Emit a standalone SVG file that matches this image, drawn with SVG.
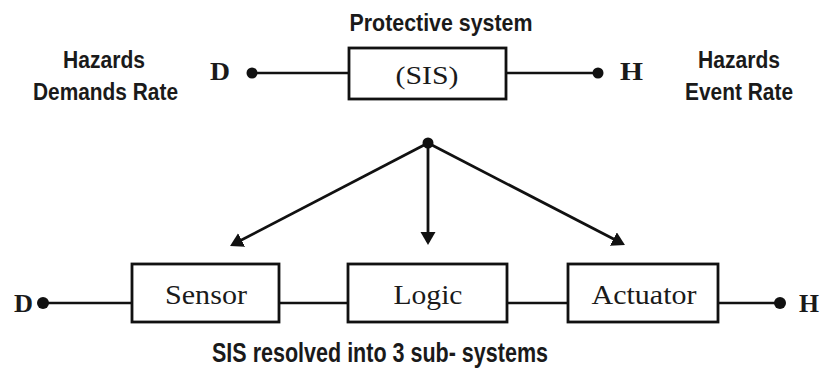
<svg xmlns="http://www.w3.org/2000/svg" width="820" height="370" viewBox="0 0 820 370">
<defs>
<style>
.box{fill:#fff;stroke:#111;stroke-width:2.8}
.ln{stroke:#111;stroke-width:2.4;fill:none}
.arr{stroke:#111;stroke-width:2.8;fill:none;marker-end:url(#ah)}
.dot{fill:#111}
.sans{font-family:"Liberation Sans",Arial,sans-serif;font-weight:bold;fill:#1a1a1a}
.serif{font-family:"Liberation Serif","Times New Roman",serif;fill:#1a1a1a}
.term{font-family:"Liberation Serif","Times New Roman",serif;font-weight:bold;fill:#1a1a1a;font-size:26px}
</style>
<marker id="ah" markerUnits="userSpaceOnUse" markerWidth="14" markerHeight="16" refX="10" refY="7.5" orient="auto">
<path d="M0,0 L13,7.5 L0,15 z" fill="#111"/>
</marker>
</defs>
<rect width="820" height="370" fill="#fff"/>

<g id="connectors">
<line class="ln" x1="252" y1="73" x2="349" y2="73"/>
<line class="ln" x1="506" y1="73" x2="598" y2="73"/>
<line class="arr" x1="428" y1="143" x2="232.7" y2="244.6"/>
<line class="arr" x1="428" y1="143" x2="428" y2="242"/>
<line class="arr" x1="428" y1="143" x2="622.3" y2="243.6"/>
<line class="ln" x1="43" y1="303" x2="132" y2="303"/>
<line class="ln" x1="279" y1="303" x2="348" y2="303"/>
<line class="ln" x1="507" y1="303" x2="568" y2="303"/>
<line class="ln" x1="718" y1="303" x2="780" y2="303"/>
</g>

<g id="title">
<text class="sans" x="441" y="31" font-size="24" text-anchor="middle" textLength="183" lengthAdjust="spacingAndGlyphs">Protective system</text>
</g>

<g id="left-label">
<text class="sans" x="104" y="68" font-size="23" text-anchor="middle" textLength="82" lengthAdjust="spacingAndGlyphs">Hazards</text>
<text class="sans" x="105.5" y="100" font-size="23" text-anchor="middle" textLength="145" lengthAdjust="spacingAndGlyphs">Demands Rate</text>
</g>

<g id="right-label">
<text class="sans" x="739" y="68" font-size="23" text-anchor="middle" textLength="82" lengthAdjust="spacingAndGlyphs">Hazards</text>
<text class="sans" x="739" y="100" font-size="23" text-anchor="middle" textLength="108" lengthAdjust="spacingAndGlyphs">Event Rate</text>
</g>

<g id="top-D">
<text class="term" x="210" y="80" textLength="20" lengthAdjust="spacingAndGlyphs">D</text>
<circle class="dot" cx="252" cy="73" r="5.5"/>
</g>

<g id="sis">
<rect class="box" x="349" y="48" width="157" height="51"/>
<text class="serif" x="427" y="84" font-size="26" text-anchor="middle" textLength="63" lengthAdjust="spacingAndGlyphs">(SIS)</text>
</g>

<g id="top-H">
<circle class="dot" cx="598" cy="73" r="5.5"/>
<text class="term" x="620" y="80" textLength="23" lengthAdjust="spacingAndGlyphs">H</text>
</g>

<g id="split">
<circle class="dot" cx="428" cy="143" r="5.5"/>
</g>

<g id="bottom-D">
<text class="term" x="14" y="312" textLength="19" lengthAdjust="spacingAndGlyphs">D</text>
<circle class="dot" cx="43" cy="303" r="6"/>
</g>

<g id="sensor">
<rect class="box" x="132" y="264" width="147" height="58"/>
<text class="serif" x="206" y="304" font-size="27" text-anchor="middle" textLength="82" lengthAdjust="spacingAndGlyphs">Sensor</text>
</g>

<g id="logic">
<rect class="box" x="348" y="264" width="159" height="58"/>
<text class="serif" x="428" y="304" font-size="27" text-anchor="middle" textLength="69" lengthAdjust="spacingAndGlyphs">Logic</text>
</g>

<g id="actuator">
<rect class="box" x="568" y="264" width="150" height="58"/>
<text class="serif" x="644" y="304" font-size="27" text-anchor="middle" textLength="105" lengthAdjust="spacingAndGlyphs">Actuator</text>
</g>

<g id="bottom-H">
<circle class="dot" cx="780" cy="303" r="6"/>
<text class="term" x="799" y="312" textLength="20" lengthAdjust="spacingAndGlyphs">H</text>
</g>

<g id="caption">
<text class="sans" x="380" y="362" font-size="27" text-anchor="middle" textLength="336" lengthAdjust="spacingAndGlyphs">SIS resolved into 3 sub- systems</text>
</g>
</svg>
